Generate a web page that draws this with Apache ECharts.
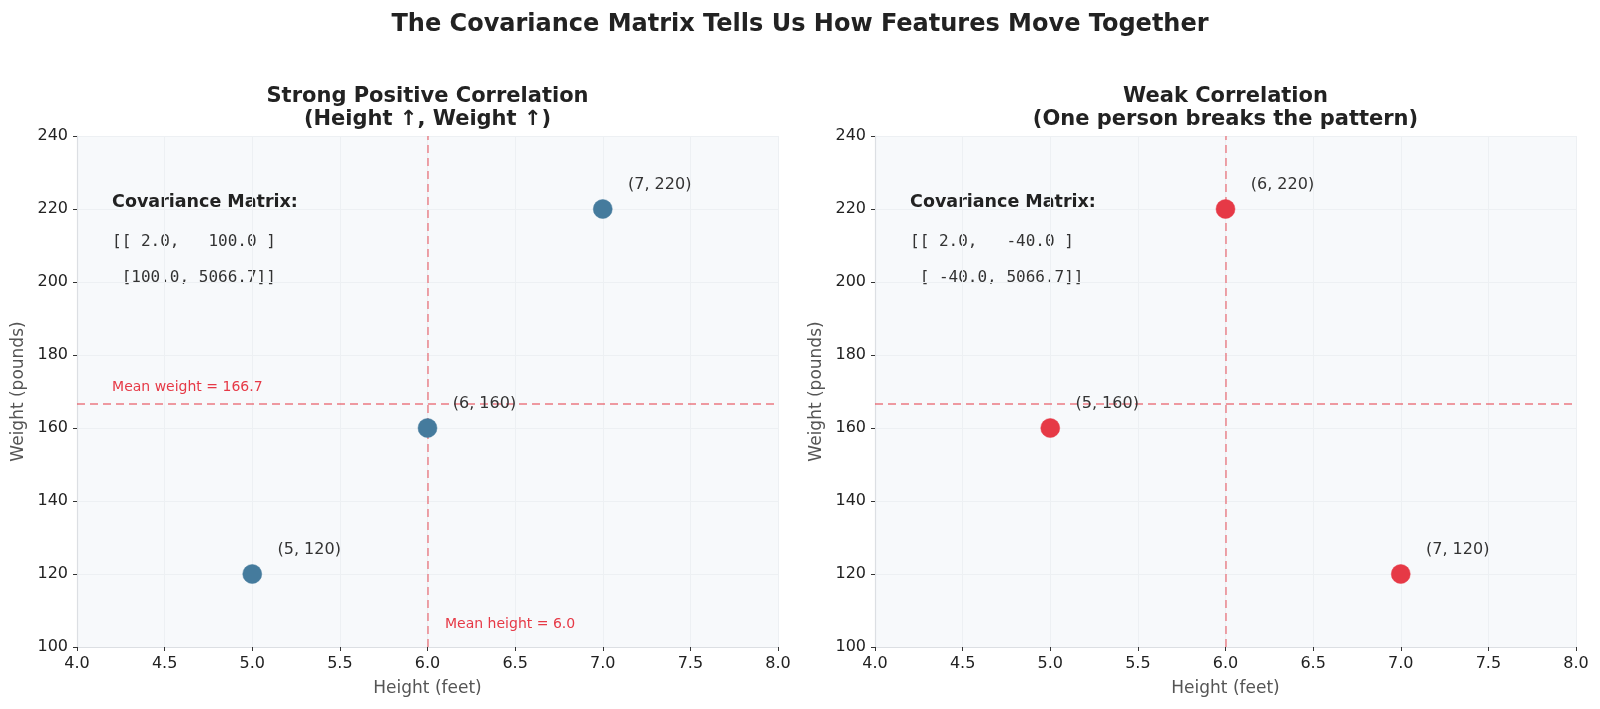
<!DOCTYPE html>
<html>
<head>
<meta charset="utf-8">
<script src="https://cdn.jsdelivr.net/npm/echarts@6/dist/echarts.min.js"></script>
<style>
  html, body { margin: 0; padding: 0; background: #fff; }
  #chart { width: 1600px; height: 709px; }
</style>
</head>
<body>
<div id="chart"></div>
<script>
// data
var heightsStrong = [5, 6, 7];
var weightsStrong = [120, 160, 220];
var heightsWeak = [5, 6, 7];
var weightsWeak = [160, 220, 120];
var meanHeight = 6.0;
var meanWeight = 166.7;
var covStrong = ['[[ 2.0,   100.0 ]', ' [100.0, 5066.7]]'];
var covWeak = ['[[ 2.0,   -40.0 ]', ' [ -40.0, 5066.7]]'];
var xTicks = [4.0, 4.5, 5.0, 5.5, 6.0, 6.5, 7.0, 7.5, 8.0];
var yTicks = [100, 120, 140, 160, 180, 200, 220, 240];

var FONT = '"DejaVu Sans", sans-serif';
var MONO = '"DejaVu Sans Mono", monospace';
var RED = '#e63946';
var BLUE = '#457b9d';

var grids = [
    {left: 77, top: 136, width: 701, height: 511},
    {left: 875, top: 136, width: 701, height: 511}
];

var chart = echarts.init(document.getElementById('chart'));

function pairs(xs, ys) {
    var out = [];
    for (var i = 0; i < xs.length; i++) out.push([xs[i], ys[i]]);
    return out;
}

function xAxis(idx) {
    return {
        type: 'value', gridIndex: idx,
        min: xTicks[0], max: xTicks[xTicks.length - 1], interval: 0.5,
        name: 'Height (feet)', nameLocation: 'middle', nameGap: 33,
        nameTextStyle: {fontFamily: FONT, fontSize: 17, color: '#555'},
        axisLine: {show: true, lineStyle: {color: '#dcdfe3', width: 1.2}},
        axisTick: {show: true, length: 4, lineStyle: {color: '#333'}},
        axisLabel: {fontFamily: FONT, fontSize: 16, color: '#222', margin: 9,
            formatter: function (v) { return v.toFixed(1); }},
        splitLine: {show: true, lineStyle: {color: '#edf0f3', width: 1}}
    };
}

function yAxis(idx) {
    return {
        type: 'value', gridIndex: idx,
        min: yTicks[0], max: yTicks[yTicks.length - 1], interval: 20,
        name: 'Weight (pounds)', nameLocation: 'middle', nameGap: 50,
        nameTextStyle: {fontFamily: FONT, fontSize: 17, color: '#555'},
        axisLine: {show: true, lineStyle: {color: '#dcdfe3', width: 1.2}},
        axisTick: {show: true, length: 4, lineStyle: {color: '#333'}},
        axisLabel: {fontFamily: FONT, fontSize: 16, color: '#222', margin: 9},
        splitLine: {show: true, lineStyle: {color: '#edf0f3', width: 1}}
    };
}

function scatter(idx, data, color, withLabels) {
    var s = {
        type: 'scatter', xAxisIndex: idx, yAxisIndex: idx,
        data: data, symbolSize: 19,
        itemStyle: {color: color, opacity: 1, borderColor: color, borderWidth: 0.5},
        label: {
            show: true, position: [35, -14], align: 'left', verticalAlign: 'middle',
            fontFamily: FONT, fontSize: 16, color: '#333',
            formatter: function (p) { return '(' + p.value[0] + ', ' + p.value[1] + ')'; }
        },
        z: 5,
        markLine: {
            silent: true, symbol: 'none', animation: false,
            lineStyle: {color: RED, opacity: 0.5, type: [8, 5], width: 1.8},
            label: {show: false},
            data: [{xAxis: meanHeight}, {yAxis: meanWeight}]
        }
    };
    if (withLabels) {
        s.markPoint = {
            silent: true, symbol: 'circle', symbolSize: 0, animation: false,
            label: {show: true, position: [0, 0], align: 'left', verticalAlign: 'middle',
                fontFamily: FONT, fontSize: 14, color: RED, formatter: '{b}'},
            data: [
                {name: 'Mean weight = ' + meanWeight.toFixed(1), coord: [4.2, 171]},
                {name: 'Mean height = ' + meanHeight.toFixed(1), coord: [6.1, 106.3]}
            ]
        };
    }
    return s;
}

function covText(idx, lines) {
    var g = grids[idx];
    var x = g.left + 0.05 * g.width;
    return [
        {type: 'text', x: x, y: g.top + 0.131 * g.height,
            style: {text: 'Covariance Matrix:', font: 'bold 17.5px ' + FONT, fill: '#222',
                verticalAlign: 'middle'}},
        {type: 'text', x: x, y: g.top + 0.207 * g.height,
            style: {text: lines[0], font: '16px ' + MONO, fill: '#333', verticalAlign: 'middle'}},
        {type: 'text', x: x, y: g.top + 0.278 * g.height,
            style: {text: lines[1], font: '16px ' + MONO, fill: '#333', verticalAlign: 'middle'}}
    ];
}

function subTitle(idx, text) {
    var g = grids[idx];
    return {
        type: 'text', x: g.left + g.width / 2, y: 85,
        style: {text: text, font: 'bold 21px ' + FONT, fill: '#222',
            align: 'center', verticalAlign: 'top', lineHeight: 23}
    };
}

chart.setOption({
    animation: false,
    backgroundColor: '#fff',
    title: {
        text: 'The Covariance Matrix Tells Us How Features Move Together',
        left: 'center', top: 8,
        textStyle: {fontFamily: FONT, fontSize: 24, fontWeight: 'bold', color: '#222'}
    },
    grid: grids.map(function (g) {
        return {left: g.left, top: g.top, width: g.width, height: g.height,
            show: true, backgroundColor: '#f7f9fb', borderWidth: 0};
    }),
    xAxis: [xAxis(0), xAxis(1)],
    yAxis: [yAxis(0), yAxis(1)],
    series: [
        scatter(0, pairs(heightsStrong, weightsStrong), BLUE, true),
        scatter(1, pairs(heightsWeak, weightsWeak), RED, false)
    ],
    graphic: [
        subTitle(0, 'Strong Positive Correlation\n(Height \u2191, Weight \u2191)'),
        subTitle(1, 'Weak Correlation\n(One person breaks the pattern)')
    ].concat(covText(0, covStrong), covText(1, covWeak))
});
</script>
</body>
</html>
